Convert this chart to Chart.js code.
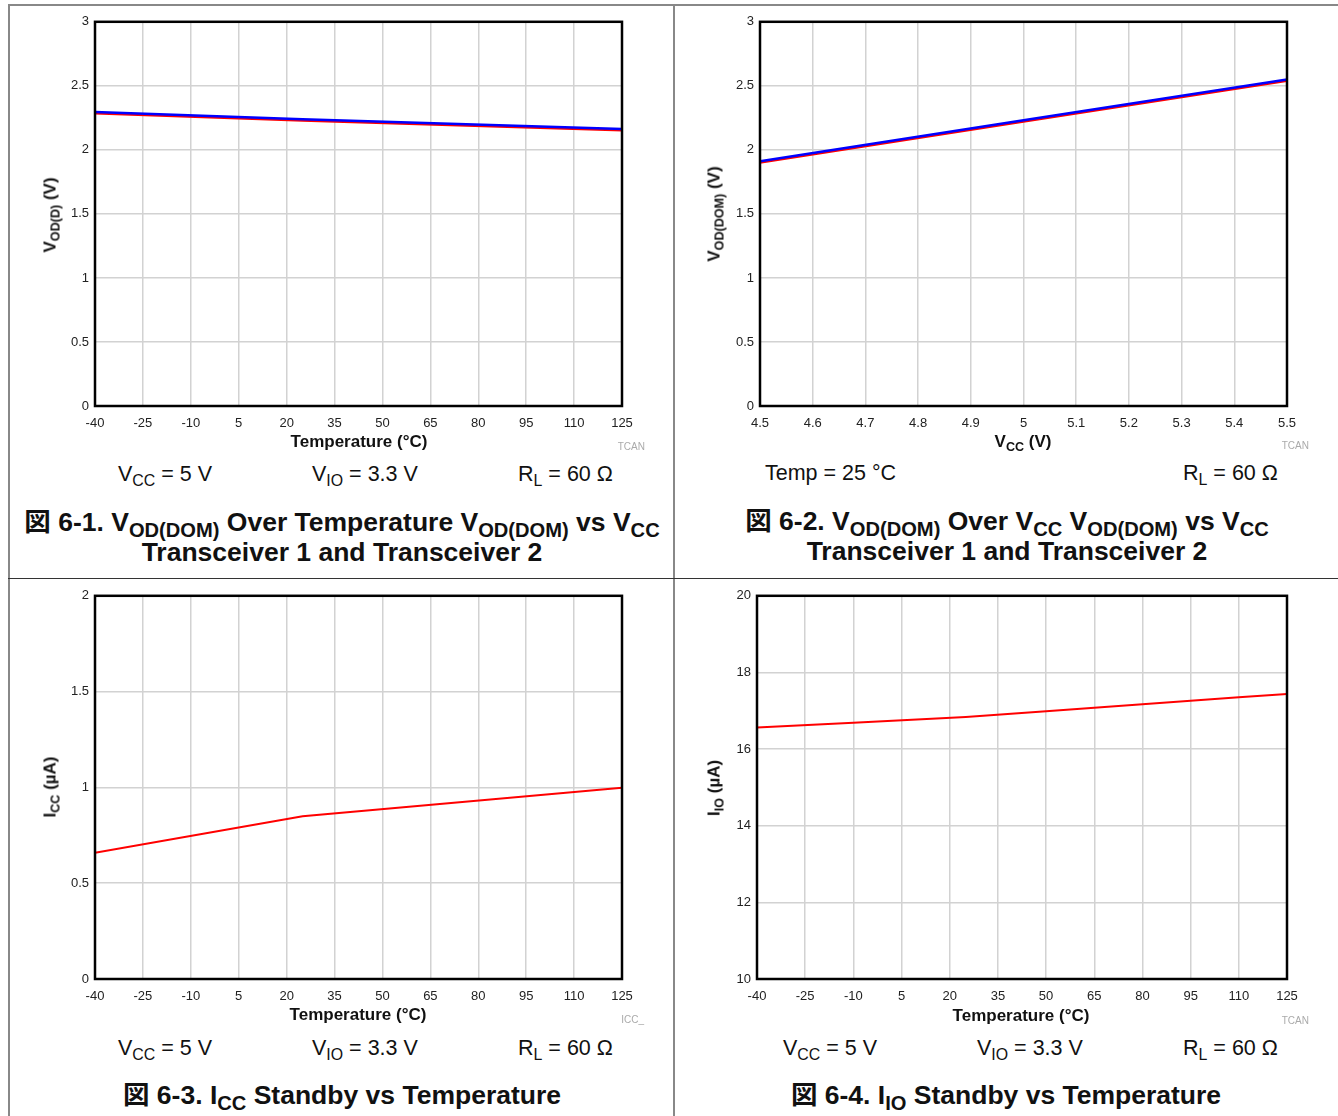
<!DOCTYPE html>
<html>
<head>
<meta charset="utf-8">
<script src="https://cdn.jsdelivr.net/npm/chart.js@4.4.0/dist/chart.umd.min.js"></script>
<style>
  body { margin: 0; background: #fff; }
  #page { position: relative; width: 1338px; height: 1116px; overflow: hidden; background: #fff;
          font-family: 'Liberation Sans', Arial, Helvetica, sans-serif; color: #111; }
  .line { position: absolute; }
  .box { position: absolute; }
  .t { position: absolute; white-space: nowrap; line-height: 1; }
  .mid { transform: translate(-50%, -50%); }
  .lft { transform: translate(0, -50%); }
  .rgt { transform: translate(-100%, -50%); }
  .ytitle { transform: translate(-50%, -50%) rotate(-90deg); font-weight: bold; font-size: 17px; }
  .xtitle { font-weight: bold; font-size: 17px; }
  .cond { font-size: 21.5px; }
  .cap { font-weight: bold; font-size: 26.5px; }
  .mark { font-size: 10px; color: #aaa; }
  .s { font-size: 0.74em; position: relative; top: 0.3em; }
  .cap .s { font-size: 0.76em; }
  .jp { font-family: 'Noto Sans CJK JP', sans-serif; }
</style>
</head>
<body>
<div id="page">
  <div class="line" style="left:8px;top:4px;width:1330px;height:1.5px;background:#888"></div>
  <div class="line" style="left:8px;top:4px;width:1.5px;height:1112px;background:#888"></div>
  <div class="line" style="left:673px;top:4px;width:1.5px;height:1112px;background:#888"></div>
  <div class="line" style="left:8px;top:578px;width:1330px;height:1px;background:#333"></div>

  <div class="box" style="left:45px;top:8px"><canvas id="c1" width="610" height="430"></canvas></div>
  <div class="box" style="left:710px;top:8px"><canvas id="c2" width="610" height="430"></canvas></div>
  <div class="box" style="left:45px;top:582px"><canvas id="c3" width="610" height="429"></canvas></div>
  <div class="box" style="left:707px;top:582px"><canvas id="c4" width="613" height="429"></canvas></div>

  <!-- panel 1 -->
  <div class="t ytitle" style="left:50px;top:215px">V<span class="s">OD(D)</span> (V)</div>
  <div class="t xtitle mid" style="left:359px;top:441px">Temperature (°C)</div>
  <div class="t mark rgt" style="left:645px;top:447px">TCAN</div>
  <div class="t cond lft" style="left:118px;top:475px">V<span class="s">CC</span> = 5 V</div>
  <div class="t cond lft" style="left:312px;top:475px">V<span class="s">IO</span> = 3.3 V</div>
  <div class="t cond lft" style="left:518px;top:475px">R<span class="s">L</span> = 60 Ω</div>
  <div class="t cap mid" style="left:342px;top:521px"><span class="jp">図</span> 6-1. V<span class="s">OD(DOM)</span> Over Temperature V<span class="s">OD(DOM)</span> vs V<span class="s">CC</span></div>
  <div class="t cap mid" style="left:342px;top:552px">Transceiver 1 and Transceiver 2</div>

  <!-- panel 2 -->
  <div class="t ytitle" style="left:714px;top:214px">V<span class="s">OD(DOM)</span> (V)</div>
  <div class="t xtitle mid" style="left:1023px;top:441px">V<span class="s">CC</span> (V)</div>
  <div class="t mark rgt" style="left:1309px;top:446px">TCAN</div>
  <div class="t cond lft" style="left:765px;top:474px">Temp = 25 °C</div>
  <div class="t cond lft" style="left:1183px;top:474px">R<span class="s">L</span> = 60 Ω</div>
  <div class="t cap mid" style="left:1007px;top:520px"><span class="jp">図</span> 6-2. V<span class="s">OD(DOM)</span> Over V<span class="s">CC</span> V<span class="s">OD(DOM)</span> vs V<span class="s">CC</span></div>
  <div class="t cap mid" style="left:1007px;top:551px">Transceiver 1 and Transceiver 2</div>

  <!-- panel 3 -->
  <div class="t ytitle" style="left:50px;top:787px">I<span class="s">CC</span> (µA)</div>
  <div class="t xtitle mid" style="left:358px;top:1014px">Temperature (°C)</div>
  <div class="t mark rgt" style="left:644px;top:1020px">ICC_</div>
  <div class="t cond lft" style="left:118px;top:1049px">V<span class="s">CC</span> = 5 V</div>
  <div class="t cond lft" style="left:312px;top:1049px">V<span class="s">IO</span> = 3.3 V</div>
  <div class="t cond lft" style="left:518px;top:1049px">R<span class="s">L</span> = 60 Ω</div>
  <div class="t cap mid" style="left:342px;top:1094px"><span class="jp">図</span> 6-3. I<span class="s">CC</span> Standby vs Temperature</div>

  <!-- panel 4 -->
  <div class="t ytitle" style="left:714px;top:788px">I<span class="s">IO</span> (µA)</div>
  <div class="t xtitle mid" style="left:1021px;top:1015px">Temperature (°C)</div>
  <div class="t mark rgt" style="left:1309px;top:1021px">TCAN</div>
  <div class="t cond lft" style="left:783px;top:1049px">V<span class="s">CC</span> = 5 V</div>
  <div class="t cond lft" style="left:977px;top:1049px">V<span class="s">IO</span> = 3.3 V</div>
  <div class="t cond lft" style="left:1183px;top:1049px">R<span class="s">L</span> = 60 Ω</div>
  <div class="t cap mid" style="left:1006px;top:1094px"><span class="jp">図</span> 6-4. I<span class="s">IO</span> Standby vs Temperature</div>
</div>

<script>
// tick labels
const tempTicks = [-40, -25, -10, 5, 20, 35, 50, 65, 80, 95, 110, 125];
const vccTicks = [4.5, 4.6, 4.7, 4.8, 4.9, 5, 5.1, 5.2, 5.3, 5.4, 5.5];
const voltTicks = [0, 0.5, 1, 1.5, 2, 2.5, 3];
const iccTicks = [0, 0.5, 1, 1.5, 2];
const iioTicks = [10, 12, 14, 16, 18, 20];

// 6-1 VOD(DOM) over temperature
const temp1 = [-40, 25, 125];
const vodTemp1 = [2.295, 2.24, 2.162];   // transceiver 1 (blue)
const vodTemp2 = [2.283, 2.228, 2.151];  // transceiver 2 (red)

// 6-2 VOD(DOM) over VCC
const vcc2 = [4.5, 5.0, 5.5];
const vodVcc1 = [1.911, 2.232, 2.549];
const vodVcc2 = [1.899, 2.22, 2.537];

// 6-3 ICC standby
const temp3 = [-40, 25, 125];
const iccStandby = [0.659, 0.849, 0.998];

// 6-4 IIO standby
const temp4 = [-40, -10, 25, 50, 80, 110, 125];
const iioStandby = [16.56, 16.69, 16.84, 16.99, 17.17, 17.35, 17.44];

const tickFont = { family: "'Liberation Sans', Arial, sans-serif", size: 13 };

const framePlugin = {
    id: 'frame',
    afterDraw(chart) {
        const a = chart.chartArea;
        const ctx = chart.ctx;
        ctx.save();
        ctx.strokeStyle = '#000';
        ctx.lineWidth = 2.5;
        ctx.strokeRect(a.left, a.top, a.right - a.left, a.bottom - a.top);
        ctx.restore();
    }
};

function toPoints(xs, ys) {
    return xs.map((x, i) => ({ x: x, y: ys[i] }));
}

function crearGrafico(canvasId, series, xTicks, yTicks, xFmt) {
    const ctx = document.getElementById(canvasId);
    return new Chart(ctx, {
        type: 'line',
        data: {
            datasets: series.map(s => ({
                data: s.data,
                borderColor: s.color,
                borderWidth: s.width,
                pointRadius: 0,
                tension: 0,
                fill: false
            }))
        },
        options: {
            responsive: false,
            animation: false,
            devicePixelRatio: 1,
            layout: { padding: { top: 13, right: 33, left: 0, bottom: 0 } },
            plugins: { legend: { display: false }, tooltip: { enabled: false } },
            scales: {
                x: {
                    type: 'linear',
                    min: xTicks[0],
                    max: xTicks[xTicks.length - 1],
                    afterBuildTicks: scale => { scale.ticks = xTicks.map(v => ({ value: v })); },
                    afterFit: scale => { scale.height = 32; },
                    grid: { color: '#d2d2d2', lineWidth: 1.5, drawTicks: false },
                    border: { display: false },
                    ticks: {
                        color: '#222', font: tickFont, padding: 10, maxRotation: 0, autoSkip: false,
                        callback: v => xFmt(v)
                    }
                },
                y: {
                    type: 'linear',
                    min: yTicks[0],
                    max: yTicks[yTicks.length - 1],
                    afterBuildTicks: scale => { scale.ticks = yTicks.map(v => ({ value: v })); },
                    afterFit: scale => { scale.width = 50; },
                    grid: { color: '#d2d2d2', lineWidth: 1.5, drawTicks: false },
                    border: { display: false },
                    ticks: { color: '#222', font: tickFont, padding: 6, callback: v => String(v) }
                }
            }
        },
        plugins: [framePlugin]
    });
}

const fmtInt = v => String(v);
const fmtVcc = v => String(Math.round(v * 10) / 10);

crearGrafico('c1', [
    { data: toPoints(temp1, vodTemp1), color: '#0000ff', width: 2.5 },
    { data: toPoints(temp1, vodTemp2), color: '#ff0000', width: 2 }
], tempTicks, voltTicks, fmtInt);

crearGrafico('c2', [
    { data: toPoints(vcc2, vodVcc1), color: '#0000ff', width: 2.5 },
    { data: toPoints(vcc2, vodVcc2), color: '#ff0000', width: 2 }
], vccTicks, voltTicks, fmtVcc);

crearGrafico('c3', [
    { data: toPoints(temp3, iccStandby), color: '#ff0000', width: 2 }
], tempTicks, iccTicks, fmtInt);

crearGrafico('c4', [
    { data: toPoints(temp4, iioStandby), color: '#ff0000', width: 2 }
], tempTicks, iioTicks, fmtInt);
</script>
</body>
</html>
